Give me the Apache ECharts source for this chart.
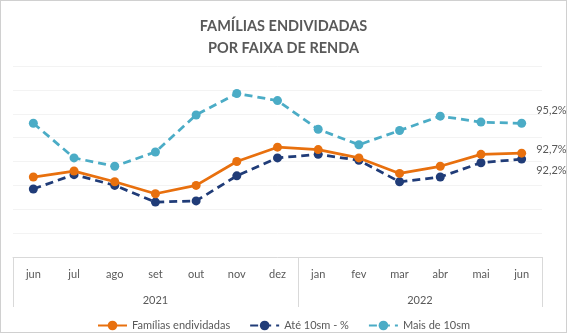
<!DOCTYPE html>
<html>
<head>
<meta charset="utf-8">
<script src="https://cdn.jsdelivr.net/npm/echarts@6/dist/echarts.min.js"></script>
<style>
  html, body { margin: 0; padding: 0; background: #fff; }
  #wrap { position: relative; width: 567px; height: 333px; }
  #chart { position: absolute; left: 0; top: 0; width: 567px; height: 333px; }
  #frame { position: absolute; left: 0; top: 0; width: 565px; height: 331px;
           border: 1px solid #d0d0d0; pointer-events: none; }
</style>
</head>
<body>
<div id="wrap">
  <div id="chart"></div>
  <div id="frame"></div>
</div>
<script>
// Monthly categories and the year each month belongs to
const months = ['jun', 'jul', 'ago', 'set', 'out', 'nov', 'dez', 'jan', 'fev', 'mar', 'abr', 'mai', 'jun'];
const monthYears = ['2021', '2021', '2021', '2021', '2021', '2021', '2021', '2022', '2022', '2022', '2022', '2022', '2022'];

// Share of indebted families (%)
const familiasEndividadas = [90.7, 91.2, 90.3, 89.3, 90.0, 92.0, 93.2, 93.0, 92.3, 91.0, 91.6, 92.6, 92.7];
const ate10sm = [89.7, 90.9, 90.0, 88.6, 88.7, 90.8, 92.3, 92.6, 92.1, 90.3, 90.7, 91.9, 92.2];
const maisDe10sm = [95.2, 92.3, 91.6, 92.8, 95.9, 97.7, 97.1, 94.7, 93.4, 94.6, 95.8, 95.3, 95.2];

// Value axis range
const yMin = 84, yMax = 100, yStep = 2;

// Year groups derived from the month list: boundaries and centres on a 0..N scale
const yearGroups = [];
monthYears.forEach((y, i) => {
  const last = yearGroups[yearGroups.length - 1];
  if (last && last.year === y) last.end = i + 1;
  else yearGroups.push({ year: y, start: i, end: i + 1 });
});
const yearBounds = [0].concat(yearGroups.map(g => g.end));
const yearCenters = yearGroups.map(g => (g.start + g.end) / 2);

const fmt = v => v.toFixed(1).replace('.', ',') + '%';
const FONT = 'Lato';
const GREY = '#595959';

// Label only the final point of each series
function withEndLabel(values, dy) {
  return values.map((v, i) => i === values.length - 1
    ? { value: v, label: { show: true, position: 'right', distance: 10, offset: [0, dy],
        formatter: p => fmt(p.value), color: GREY, fontFamily: FONT, fontSize: 11 } }
    : v);
}

const chart = echarts.init(document.getElementById('chart'));
chart.setOption({
  animation: false,
  backgroundColor: '#fff',
  title: {
    text: 'FAMÍLIAS ENDIVIDADAS\nPOR FAIXA DE RENDA',
    left: 'center',
    top: 10,
    textStyle: { color: GREY, fontFamily: FONT, fontWeight: 'bold', fontSize: 14.5, lineHeight: 22 }
  },
  grid: { left: 13, right: 25, top: 66, bottom: 76 },
  legend: {
    top: 315,
    left: 'center',
    itemWidth: 29,
    itemHeight: 12,
    itemGap: 19,
    textStyle: { color: GREY, fontFamily: FONT, fontSize: 11 },
    data: ['Famílias endividadas', 'Até 10sm - %', 'Mais de 10sm']
  },
  xAxis: [
    {
      type: 'category',
      data: months,
      boundaryGap: true,
      axisLine: { lineStyle: { color: '#d9d9d9', width: 1 } },
      axisTick: { show: false },
      axisLabel: { interval: 0, color: GREY, fontFamily: FONT, fontSize: 11, margin: 12 },
      splitLine: { show: false }
    },
    {
      type: 'value',
      position: 'bottom',
      min: 0,
      max: months.length,
      axisLine: { show: false },
      splitLine: { show: false },
      axisTick: {
        show: true, inside: false, length: 50,
        customValues: yearBounds,
        lineStyle: { color: '#d9d9d9', width: 1 }
      },
      axisLabel: {
        show: true,
        customValues: yearCenters,
        margin: 38,
        color: GREY, fontFamily: FONT, fontSize: 11,
        formatter: v => {
          const k = yearCenters.indexOf(v);
          return k >= 0 ? yearGroups[k].year : '';
        }
      }
    }
  ],
  yAxis: {
    type: 'value',
    min: yMin,
    max: yMax,
    interval: yStep,
    axisLabel: { show: false },
    axisLine: { show: false },
    axisTick: { show: false },
    splitLine: { lineStyle: { color: '#f3f3f3', width: 1 } }
  },
  series: [
    {
      name: 'Famílias endividadas',
      type: 'line',
      xAxisIndex: 0,
      data: withEndLabel(familiasEndividadas, -4),
      symbol: 'circle',
      symbolSize: 9,
      itemStyle: { color: '#E8700E' },
      lineStyle: { color: '#E8700E', width: 2.75 },
      z: 4
    },
    {
      name: 'Até 10sm - %',
      type: 'line',
      xAxisIndex: 0,
      data: withEndLabel(ate10sm, 11),
      symbol: 'circle',
      symbolSize: 9,
      itemStyle: { color: '#203C78' },
      lineStyle: { color: '#203C78', width: 2.75, type: [8, 5] },
      z: 3
    },
    {
      name: 'Mais de 10sm',
      type: 'line',
      xAxisIndex: 0,
      data: withEndLabel(maisDe10sm, -13),
      symbol: 'circle',
      symbolSize: 9,
      itemStyle: { color: '#4BACC6' },
      lineStyle: { color: '#4BACC6', width: 2.75, type: [8, 5] },
      z: 2
    }
  ]
});
</script>
</body>
</html>
